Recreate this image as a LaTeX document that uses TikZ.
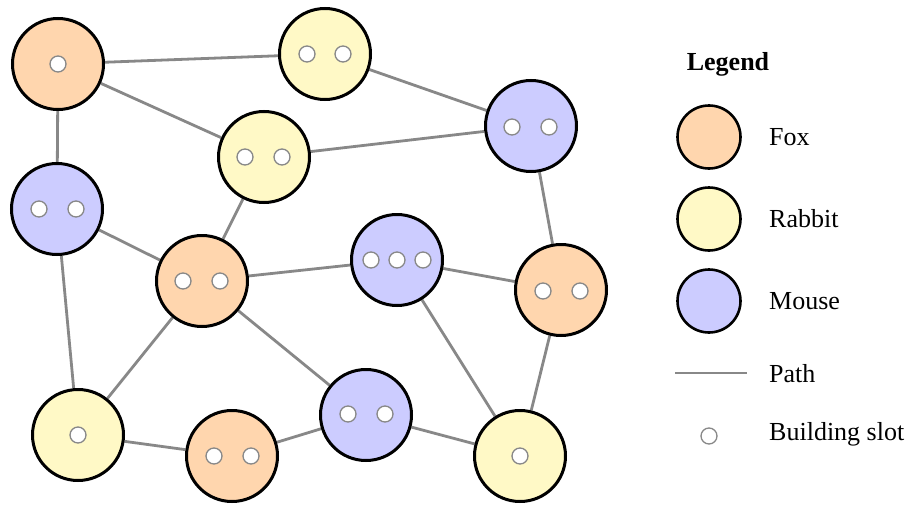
\documentclass[tikz,border=0pt]{standalone}
\usepackage{fontspec}
\setmainfont{Liberation Serif}
\usetikzlibrary{backgrounds}
\definecolor{foxc}{HTML}{FFD6AE}
\definecolor{rabbitc}{HTML}{FFF9C6}
\definecolor{mousec}{HTML}{CCCCFF}
\definecolor{pathc}{HTML}{888888}
\tikzset{
  region/.style={circle, draw=black, line width=3pt, minimum size=91pt, inner sep=0pt},
  fox/.style={region, fill=foxc},
  rabbit/.style={region, fill=rabbitc},
  mouse/.style={region, fill=mousec},
  legcirc/.style={circle, draw=black, line width=2.6pt, minimum size=63pt, inner sep=0pt},
  slot/.style={circle, draw=pathc, fill=white, line width=1.3pt, minimum size=16pt, inner sep=0pt},
  road/.style={draw=pathc, line width=2.8pt},
  lab/.style={anchor=west, font=\fontsize{26}{31}\selectfont, inner sep=0pt},
}
\begin{document}
\begin{tikzpicture}[x=1pt,y=-1pt]
\useasboundingbox (0,0) rectangle (908,506);
% regions
\node[fox]    (A) at (58,64) {};
\node[rabbit] (B) at (325,54) {};
\node[mouse]  (C) at (531,126) {};
\node[rabbit] (D) at (264,157) {};
\node[mouse]  (E) at (57,209) {};
\node[fox]    (F) at (202,281) {};
\node[mouse]  (G) at (397,260) {};
\node[fox]    (H) at (561,290) {};
\node[rabbit] (I) at (78,435) {};
\node[fox]    (J) at (232,456) {};
\node[mouse]  (K) at (366,415) {};
\node[rabbit] (L) at (520,456) {};
% building slots
\node[slot] (A1) at (58,64) {};
\node[slot] (B1) at (307,54) {};
\node[slot] (B2) at (343,54) {};
\node[slot] (C1) at (512,127) {};
\node[slot] (C2) at (549,127) {};
\node[slot] (D1) at (245,157) {};
\node[slot] (D2) at (282,157) {};
\node[slot] (E1) at (39,209) {};
\node[slot] (E2) at (76,209) {};
\node[slot] (F1) at (183,281) {};
\node[slot] (F2) at (220,281) {};
\node[slot] (G1) at (371,260) {};
\node[slot] (G2) at (397,260) {};
\node[slot] (G3) at (423,260) {};
\node[slot] (H1) at (543,291) {};
\node[slot] (H2) at (580,291) {};
\node[slot] (I1) at (78,435) {};
\node[slot] (J1) at (214,456) {};
\node[slot] (J2) at (251,456) {};
\node[slot] (K1) at (348,414) {};
\node[slot] (K2) at (385,414) {};
\node[slot] (L1) at (520,456) {};
% paths
\begin{scope}[on background layer]
\draw[road] (A) -- (B);
\draw[road] (A) -- (D);
\draw[road] (A) -- (E);
\draw[road] (B) -- (C);
\draw[road] (D) -- (C);
\draw[road] (D) -- (F);
\draw[road] (E) -- (F);
\draw[road] (E) -- (I);
\draw[road] (F) -- (G);
\draw[road] (F) -- (I);
\draw[road] (F) -- (K);
\draw[road] (G) -- (H);
\draw[road] (G) -- (L);
\draw[road] (C) -- (H);
\draw[road] (H) -- (L);
\draw[road] (I) -- (J);
\draw[road] (J) -- (K);
\draw[road] (K) -- (L);
\end{scope}
% legend
\node[font=\fontsize{26}{31}\selectfont\bfseries, inner sep=0pt] (legtitle) at (728,64) {Legend};
\node[legcirc, fill=foxc]    (lfox) at (709,137) {};
\node[legcirc, fill=rabbitc] (lrab) at (709,219) {};
\node[legcirc, fill=mousec]  (lmou) at (709,301) {};
\coordinate (lp1) at (675,373);
\coordinate (lp2) at (747,373);
\draw[road] (lp1) -- (lp2);
\node[slot] (lslot) at (709,436) {};
\node[lab] (tfox) at (769,137) {Fox};
\node[lab] (trab) at (769,219) {Rabbit};
\node[lab] (tmou) at (769,301) {Mouse};
\node[lab] (tpath) at (769,374) {Path};
\node[lab] (tslot) at (769,434) {Building slot};
\end{tikzpicture}
\end{document}
